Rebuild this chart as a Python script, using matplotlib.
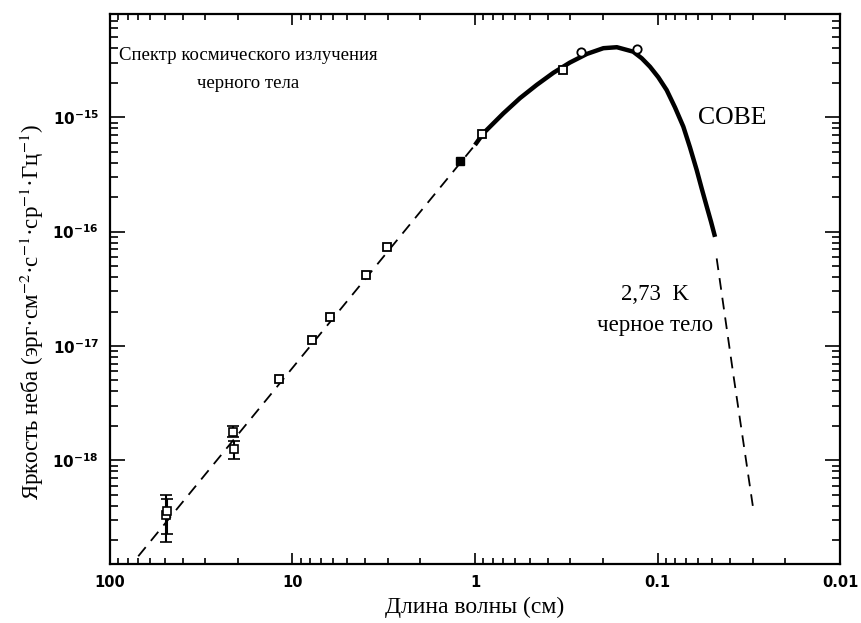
import matplotlib

matplotlib.use("Agg")

import matplotlib.pyplot as plt
import numpy as np
from matplotlib.ticker import FixedLocator, LogLocator, NullFormatter

# values: wavelength (cm) and sky brightness (erg cm^-2 s^-1 sr^-1 Hz^-1)
cobe_wl = [1.0, 0.90, 0.70, 0.567, 0.459, 0.372, 0.302, 0.244, 0.198, 0.167,
           0.136, 0.122, 0.110, 0.0990, 0.0891, 0.0802, 0.0722, 0.0664, 0.0610,
           0.0573, 0.0537, 0.0509, 0.0484]
cobe_b = [5.73e-16, 7.24e-16, 1.08e-15, 1.47e-15, 1.92e-15, 2.45e-15, 3.01e-15,
          3.58e-15, 4.02e-15, 4.10e-15, 3.75e-15, 3.28e-15, 2.77e-15, 2.24e-15,
          1.73e-15, 1.22e-15, 8.28e-16, 5.46e-16, 3.46e-16, 2.39e-16, 1.65e-16,
          1.22e-16, 9.0e-17]

rj_wl = [70.0, 1.0]
rj_b = [1.45e-19, 5.73e-16]

wien_wl = [0.0474, 0.0385, 0.0299]
wien_b = [5.83e-17, 5.75e-18, 3.79e-19]

sq_wl = [11.9, 7.85, 6.23, 3.95, 3.02, 0.912, 0.331]
sq_b = [5.16e-18, 1.13e-17, 1.80e-17, 4.17e-17, 7.3e-17, 7.1e-16, 2.59e-15]

filled_wl = [1.21]
filled_b = [4.17e-16]

circ_wl = [0.264, 0.130]
circ_b = [3.75e-15, 3.93e-15]

eb_wl = [49.5, 48.5, 21.2, 21.0]
eb_b = [3.32e-19, 3.6e-19, 1.77e-18, 1.25e-18]
eb_lo = [1.92e-19, 2.27e-19, 1.60e-18, 1.03e-18]
eb_hi = [4.96e-19, 4.55e-19, 2.0e-18, 1.47e-18]

x_ticks = [100, 10, 1, 0.1, 0.01]
x_labels = ["100", "10", "1", "0.1", "0.01"]
y_ticks = [1e-18, 1e-17, 1e-16, 1e-15]
y_labels = [r"$\mathbf{10^{-18}}$", r"$\mathbf{10^{-17}}$", r"$\mathbf{10^{-16}}$", r"$\mathbf{10^{-15}}$"]

serif = "Liberation Serif"
dash = (0, (6.5, 4.5))

fig = plt.figure(figsize=(8.62, 6.23), dpi=100)
ax = fig.add_axes([0.1276, 0.0947, 0.8469, 0.8828])
ax.set_xscale("log")
ax.set_yscale("log")
ax.set_xlim(100, 0.01)
ax.set_ylim(1.24e-19, 8.0e-15)

ax.plot(rj_wl, rj_b, color="black", lw=1.3, ls=dash)
ax.plot(wien_wl, wien_b, color="black", lw=1.3, ls=dash)
ax.plot(cobe_wl, cobe_b, color="black", lw=3.2, solid_capstyle="butt", solid_joinstyle="round")

eb_b_arr = np.array(eb_b)
yerr = np.vstack([eb_b_arr - np.array(eb_lo), np.array(eb_hi) - eb_b_arr])
ax.errorbar(eb_wl, eb_b, yerr=yerr, fmt="s", mfc="white", mec="black", mew=1.2, ms=6,
            ecolor="black", elinewidth=1.5, capsize=4.5, capthick=1.5)
ax.plot(sq_wl, sq_b, "s", mfc="white", mec="black", mew=1.3, ms=6)
ax.plot(filled_wl, filled_b, "s", mfc="black", mec="black", ms=5.5)
ax.plot(circ_wl, circ_b, "o", mfc="white", mec="black", mew=1.3, ms=6)

ax.xaxis.set_major_locator(FixedLocator(x_ticks))
ax.set_xticklabels(x_labels)
ax.xaxis.set_minor_locator(LogLocator(base=10, subs=np.arange(2, 10), numticks=100))
ax.xaxis.set_minor_formatter(NullFormatter())
ax.yaxis.set_major_locator(FixedLocator(y_ticks))
ax.set_yticklabels(y_labels)
ax.yaxis.set_minor_locator(LogLocator(base=10, subs=np.arange(2, 10), numticks=100))
ax.yaxis.set_minor_formatter(NullFormatter())

ax.tick_params(which="both", direction="in", top=True, right=True, width=1.2)
ax.tick_params(axis="x", which="major", length=8, pad=8)
ax.tick_params(axis="x", which="minor", length=4)
ax.tick_params(axis="y", which="major", length=11, pad=8)
ax.tick_params(axis="y", which="minor", length=6)
for lab in ax.get_xticklabels():
    lab.set_fontweight("bold")
    lab.set_fontsize(10.5)
for lab in ax.get_yticklabels():
    lab.set_fontsize(11)
    lab.set_math_fontfamily("dejavusans")
for sp in ax.spines.values():
    sp.set_linewidth(1.6)

ax.set_xlabel("Длина волны (см)", family=serif, fontsize=17, labelpad=5)
ax.set_ylabel(r"Яркость неба (эрг·см$^{-2}$·с$^{-1}$·ср$^{-1}$·Гц$^{-1}$)",
              family=serif, fontsize=16.5, math_fontfamily="stix")
ax.yaxis.set_label_coords(-0.088, 0.458)

ax.text(0.189, 0.899, "Спектр космического излучения\nчерного тела", transform=ax.transAxes,
        ha="center", va="center", family=serif, fontsize=13.5, linespacing=1.85)
ax.text(0.853, 0.811, "COBE", transform=ax.transAxes, ha="center", va="center",
        family=serif, fontsize=18.5)
ax.text(0.747, 0.462, "2,73  K\nчерное тело", transform=ax.transAxes, ha="center", va="center",
        family=serif, fontsize=16.5, linespacing=1.6)

fig.savefig("out.png", dpi=100)
plt.close(fig)
